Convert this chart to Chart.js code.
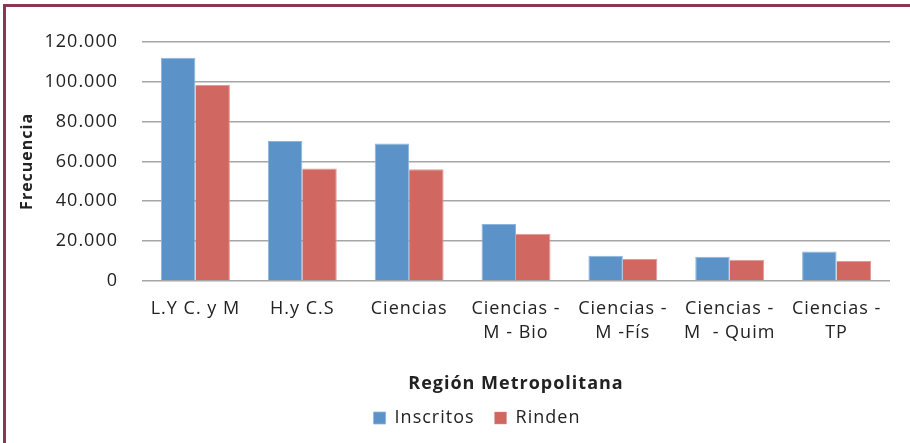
<!DOCTYPE html>
<html>
<head>
<meta charset="utf-8">
<script src="https://cdn.jsdelivr.net/npm/chart.js@4/dist/chart.umd.min.js"></script>
<style>
html,body{margin:0;padding:0;background:#fff;}
#wrap{position:relative;width:910px;height:443px;}
</style>
</head>
<body>
<div id="wrap"><canvas id="c" width="910" height="443"></canvas></div>
<script>
const categories = [
  ["L.Y C. y M"],
  ["H.y C.S"],
  ["Ciencias"],
  ["Ciencias -", "M - Bio"],
  ["Ciencias -", "M -Fís"],
  ["Ciencias -", "M  - Quim"],
  ["Ciencias -", "TP"]
];
const inscritos = [112100, 70300, 69000, 28600, 12600, 12100, 14700];
const rinden = [98400, 56400, 56100, 23600, 11000, 10600, 9900];
const yTicks = [0, 20000, 40000, 60000, 80000, 100000, 120000];
const xTitle = "Región Metropolitana";
const yTitle = "Frecuencia";

const FONT = "'Open Sans', 'Liberation Sans', sans-serif";

function fmt(v){
  return String(v).replace(/\B(?=(\d{3})+(?!\d))/g, ".");
}

const canvas = document.getElementById('c');

const spacingPlugin = {
  id: 'spacing',
  beforeUpdate(chart){ try { chart.ctx.letterSpacing = '1px'; } catch(e) {} },
  beforeLayout(chart){ try { chart.ctx.letterSpacing = '1px'; } catch(e) {} },
  afterLayout(chart){
    if (chart.legend) { chart.legend.left += 23; chart.legend.right += 23; }
  },
  beforeDraw(chart){ try { chart.ctx.letterSpacing = '1px'; } catch(e) {} }
};

const framePlugin = {
  id: 'frame',
  afterDraw(chart){
    const ctx = chart.ctx;
    ctx.save();
    ctx.strokeStyle = '#8E3550';
    ctx.lineWidth = 3;
    ctx.beginPath();
    ctx.moveTo(4.5, 460);
    ctx.lineTo(4.5, 5.5);
    ctx.lineTo(915, 5.5);
    ctx.stroke();
    ctx.restore();
  }
};

new Chart(canvas, {
  type: 'bar',
  data: {
    labels: categories,
    datasets: [
      { label: 'Inscritos', data: inscritos, backgroundColor: '#5B93C9', borderColor: '#8FB4DC', borderWidth: {top:1,right:1,left:1,bottom:0}, barPercentage: 1, categoryPercentage: 0.645 },
      { label: 'Rinden', data: rinden, backgroundColor: '#D06761', borderColor: '#E09A96', borderWidth: {top:1,right:1,left:0,bottom:0}, barPercentage: 1, categoryPercentage: 0.645 }
    ]
  },
  options: {
    responsive: false,
    animation: false,
    layout: { padding: { left: 18, right: 20, top: 42, bottom: 6 } },
    plugins: {
      legend: {
        position: 'bottom',
        labels: {
          font: { family: FONT, size: 18 },
          color: '#222',
          boxWidth: 12,
          boxHeight: 12,
          padding: 20
        }
      },
      tooltip: { enabled: false }
    },
    scales: {
      x: {
        grid: { display: false },
        border: { display: false },
        ticks: {
          font: { family: FONT, size: 18, lineHeight: 1.35 },
          color: '#222',
          padding: 8,
          maxRotation: 0,
          autoSkip: false
        },
        title: {
          display: true,
          text: xTitle,
          font: { family: FONT, size: 18, weight: 'bold' },
          color: '#222',
          padding: { top: 20, bottom: -6 }
        }
      },
      y: {
        min: 0,
        max: 120000,
        afterBuildTicks(scale){ scale.ticks = yTicks.map(v => ({ value: v })); },
        afterFit(scale){ scale.width = 124; },
        grid: { color: '#A6A6A6', lineWidth: 1.5, drawTicks: false },
        border: { display: false },
        ticks: {
          font: { family: FONT, size: 18 },
          color: '#222',
          padding: 24,
          callback: v => fmt(v)
        },
        title: {
          display: true,
          text: yTitle,
          font: { family: FONT, size: 16, weight: 'bold' },
          color: '#222',
          padding: { top: 0, bottom: 4 }
        }
      }
    }
  },
  plugins: [spacingPlugin, framePlugin]
});
</script>
</body>
</html>
